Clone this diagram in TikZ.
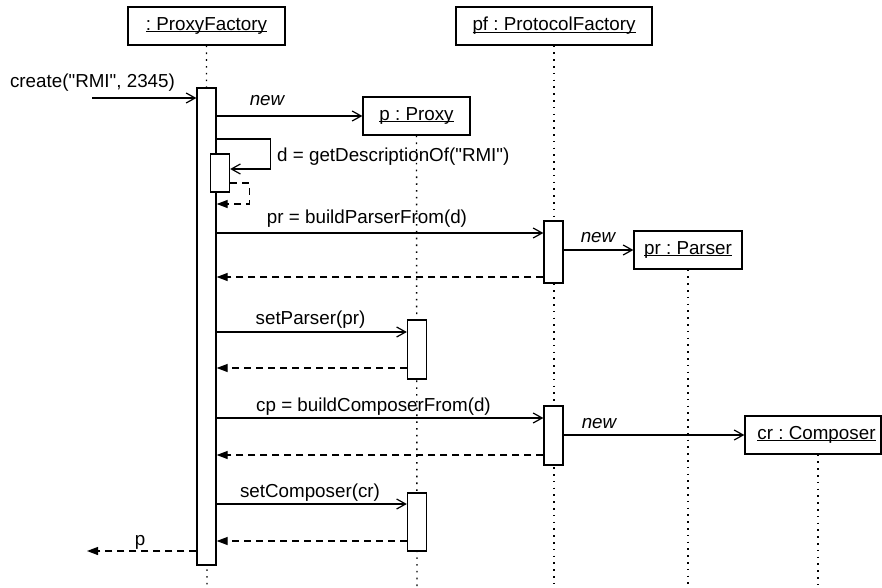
\documentclass[tikz,border=0pt]{standalone}
\usepackage{fontspec}
\setmainfont{Liberation Sans}
\usetikzlibrary{arrows.meta}
\newcommand\ulobj[1]{\setbox0\hbox{#1}\rlap{\rule[-1.6pt]{\wd0}{0.9pt}}\box0}
\newcommand\qq{\textquotedbl}
\frenchspacing
\begin{document}
\begin{tikzpicture}[x=1pt,y=-1pt,
  every node/.style={font=\fontsize{18.8}{22}\selectfont},
  objbox/.style={draw, line width=1.3pt, fill=white, inner sep=0pt},
  actbox/.style={draw, line width=1.3pt, fill=white, inner sep=0pt, minimum width=19pt},
  lifeln/.style={line width=1.4pt, dash pattern=on 1.6pt off 5.2pt},
  msg/.style={line width=1.2pt, -{Straight Barb[length=9pt,width=10pt,line width=1.2pt]}},
  retmsg/.style={line width=1.2pt, dash pattern=on 7pt off 5pt, -{Triangle[length=11pt,width=8pt]}},
  lbl/.style={inner sep=0pt, anchor=base},
  lblw/.style={inner sep=0pt, anchor=base west}]
\useasboundingbox (0,0) rectangle (882,588);
\fill[white] (0,0) rectangle (882,588);

% objects
\node[objbox, minimum width=157pt, minimum height=38pt] (pfact) at (206.5,26) {\ulobj{: ProxyFactory}};
\node[objbox, minimum width=196pt, minimum height=38pt] (pf) at (554,26) {\ulobj{pf : ProtocolFactory}};
\node[objbox, minimum width=107pt, minimum height=38pt] (proxy) at (416.5,116) {\ulobj{p : Proxy}};
\node[objbox, minimum width=108pt, minimum height=38pt] (parser) at (688,250) {\ulobj{pr : Parser}};
\node[objbox, minimum width=136pt, minimum height=38pt] (composer) at (813,435) {\hspace{7pt}\ulobj{cr : Composer}};

% lifelines
\coordinate (pfactend) at (207,588);
\coordinate (pfend) at (554,588);
\coordinate (proxyend) at (417,588);
\coordinate (parserend) at (688,588);
\coordinate (compend) at (818,588);
\draw[lifeln] (pfact.south) -- (pfactend);
\draw[lifeln] (pf.south) -- (pfend);
\draw[lifeln] (proxy.south) -- (proxyend);
\draw[lifeln] (parser.south) -- (parserend);
\draw[lifeln] ([xshift=5pt]composer.south) -- (compend);

% activations
\node[actbox, minimum height=477pt] (a0) at (206.5,326.5) {};
\node[actbox, minimum height=38pt] (a1) at (220,173) {};
\node[actbox, minimum height=62pt] (b1) at (553.5,252) {};
\node[actbox, minimum height=59pt] (b2) at (553.5,435.5) {};
\node[actbox, minimum height=59pt] (c1) at (417,349.5) {};
\node[actbox, minimum height=58pt] (c2) at (417,522) {};

% messages
\coordinate (cstart) at (92,98);
\coordinate (pend) at (87,551);
\draw[msg] (cstart) -- (a0.west |- cstart);
\draw[msg] (a0.east |- 0,116) -- (proxy.west);
\draw[msg] (a0.east |- 0,139) -- ++(54,0) |- (a1.east |- 0,169);
\draw[retmsg] (a1.east |- 0,183) -- ++(19,0) |- (a0.east |- 0,204);
\draw[msg] (a0.east |- 0,233) -- (b1.west |- 0,233);
\draw[retmsg] (b1.west |- 0,277) -- (a0.east |- 0,277);
\draw[msg] (b1.east |- parser.west) -- (parser.west);
\draw[msg] (a0.east |- 0,332) -- (c1.west |- 0,332);
\draw[retmsg] (c1.west |- 0,368) -- (a0.east |- 0,368);
\draw[msg] (a0.east |- 0,418) -- (b2.west |- 0,418);
\draw[retmsg] (b2.west |- 0,455) -- (a0.east |- 0,455);
\draw[msg] (b2.east |- composer.west) -- (composer.west);
\draw[msg] (a0.east |- 0,504) -- (c2.west |- 0,504);
\draw[retmsg] (c2.west |- 0,541) -- (a0.east |- 0,541);
\draw[retmsg] (a0.west |- pend) -- (pend);

% labels
\node[lbl] (t1) at (92.5,88) {create(\qq RMI\qq, 2345)};
\node[lbl] (t2) at (267,106) {\itshape new};
\node[lblw] (t3) at (277,161) {d = getDescriptionOf(\qq RMI\qq)};
\node[lbl] (t4) at (367,223) {pr = buildParserFrom(d)};
\node[lbl] (t5) at (598,242) {\itshape new};
\node[lbl] (t6) at (310.5,324) {setParser(pr)};
\node[lbl] (t7) at (373.5,411.5) {cp = buildComposerFrom(d)};
\node[lbl] (t8) at (599,428) {\itshape new};
\node[lbl] (t9) at (310,497) {setComposer(cr)};
\node[lbl] (t10) at (140,545) {p};
\end{tikzpicture}
\end{document}
